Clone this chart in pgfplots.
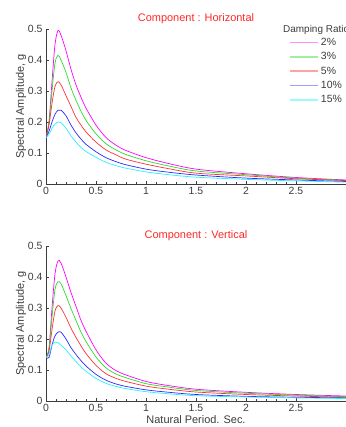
\documentclass[border=0pt]{standalone}
\usepackage{pgfplots}
\usepackage{pgfplotstable}
\pgfplotsset{compat=1.18}
\usepackage{fontspec}
\setmainfont{Liberation Sans}
\definecolor{cmag}{RGB}{255,0,255}
\definecolor{cgrn}{RGB}{40,220,40}
\definecolor{cred}{RGB}{255,50,50}
\definecolor{cblu}{RGB}{40,40,255}
\definecolor{ccya}{RGB}{40,240,255}
\definecolor{ctxt}{RGB}{60,60,60}
\definecolor{ctitle}{RGB}{255,40,40}

\pgfplotstableread{
T    d2    d3    d5    d10   d15
0    0.150 0.150 0.150 0.150 0.150
0.03 0.200 0.200 0.190 0.170 0.160
0.06 0.330 0.300 0.260 0.200 0.180
0.09 0.450 0.390 0.315 0.225 0.193
0.12 0.495 0.415 0.330 0.238 0.200
0.15 0.480 0.400 0.320 0.238 0.198
0.20 0.430 0.360 0.285 0.220 0.180
0.25 0.370 0.310 0.250 0.190 0.155
0.30 0.320 0.270 0.215 0.165 0.135
0.35 0.280 0.235 0.190 0.145 0.118
0.40 0.245 0.205 0.168 0.128 0.105
0.50 0.190 0.162 0.135 0.104 0.086
0.60 0.150 0.130 0.110 0.085 0.070
0.70 0.125 0.110 0.094 0.072 0.059
0.80 0.108 0.095 0.080 0.062 0.051
1.00 0.085 0.075 0.064 0.048 0.039
1.20 0.068 0.060 0.051 0.039 0.031
1.50 0.048 0.042 0.035 0.029 0.022
2.00 0.033 0.030 0.026 0.019 0.015
2.50 0.021 0.019 0.017 0.013 0.010
3.00 0.013 0.012 0.011 0.008 0.006
}\tabH

\pgfplotstableread{
T    d2    d3    d5    d10   d15
0    0.140 0.140 0.140 0.140 0.140
0.03 0.170 0.170 0.160 0.140 0.150
0.06 0.300 0.270 0.230 0.180 0.180
0.09 0.410 0.360 0.290 0.210 0.190
0.12 0.452 0.385 0.308 0.222 0.188
0.15 0.445 0.378 0.300 0.222 0.180
0.20 0.400 0.340 0.270 0.200 0.165
0.25 0.350 0.298 0.235 0.172 0.145
0.30 0.305 0.260 0.205 0.150 0.127
0.35 0.260 0.222 0.178 0.130 0.110
0.40 0.225 0.192 0.153 0.113 0.096
0.50 0.165 0.142 0.115 0.086 0.073
0.60 0.122 0.107 0.088 0.067 0.057
0.70 0.098 0.087 0.073 0.055 0.047
0.80 0.084 0.075 0.063 0.047 0.040
1.00 0.063 0.056 0.048 0.036 0.030
1.20 0.051 0.046 0.039 0.029 0.024
1.50 0.038 0.034 0.029 0.021 0.017
2.00 0.028 0.025 0.021 0.015 0.013
2.50 0.021 0.019 0.016 0.012 0.010
3.00 0.016 0.014 0.012 0.010 0.008
}\tabV

\pgfplotsset{
  myaxis/.style={
    scale only axis, width=300bp, height=155bp,
    anchor=south west,
    xmin=0, xmax=3, ymin=0, ymax=0.5,
    axis x line*=bottom, axis y line*=left,
    axis line style={ctxt, line width=0.6pt},
    tick style={ctxt, line width=0.5pt},
    tick align=inside,
    major tick length=3bp, minor tick length=2bp,
    xtick={0,0.5,1,1.5,2,2.5},
    xticklabels={0,0.5,1,1.5,2,2.5},
    minor x tick num=4,
    ytick={0,0.1,0.2,0.3,0.4,0.5},
    yticklabels={0,0.1,0.2,0.3,0.4,0.5},
    ticklabel style={font=\fontsize{10.5}{12}\selectfont, text=ctxt},
    label style={font=\fontsize{11}{13}\selectfont, text=ctxt},
    ylabel={Spectral Amplitude, g},
    ylabel style={yshift=-5bp},
    xtick pos=left, ytick pos=left,
    every axis plot/.append style={line width=0.7pt, smooth, no markers},
    clip mode=individual,
  }
}

\begin{document}
\begin{tikzpicture}[x=1bp,y=1bp]
\useasboundingbox (0,0) rectangle (346,427);

\begin{axis}[myaxis, at={(46bp,243bp)},
  legend cell align=left,
  legend style={at={(axis cs:2.43,0.478)}, anchor=north west, draw=none, fill=none,
    font=\fontsize{10.5}{12}\selectfont, text=ctxt, row sep=1.6bp, inner sep=0pt},
  legend image code/.code={\draw[#1, line width=1.8bp, opacity=0.45] (0bp,0bp) -- (28bp,0bp);},
]
\addplot[cmag] table[x=T,y=d2]{\tabH}; \addlegendentry{2\%}
\addplot[cgrn] table[x=T,y=d3]{\tabH}; \addlegendentry{3\%}
\addplot[cred] table[x=T,y=d5]{\tabH}; \addlegendentry{5\%}
\addplot[cblu] table[x=T,y=d10]{\tabH}; \addlegendentry{10\%}
\addplot[ccya] table[x=T,y=d15]{\tabH}; \addlegendentry{15\%}
\node[anchor=south, text=ctitle, font=\fontsize{11}{13}\selectfont] at (rel axis cs:0.5,1) [yshift=2bp] {Component : Horizontal};
\node[anchor=west, text=ctxt, font=\fontsize{10}{12}\selectfont, inner sep=0pt] at (axis cs:2.37,0.497) {Damping Ratios};
\end{axis}

\begin{axis}[myaxis, at={(46bp,26bp)},
  xlabel={Natural Period. Sec.},
  xlabel style={yshift=3bp},
]
\addplot[cmag] table[x=T,y=d2]{\tabV};
\addplot[cgrn] table[x=T,y=d3]{\tabV};
\addplot[cred] table[x=T,y=d5]{\tabV};
\addplot[cblu] table[x=T,y=d10]{\tabV};
\addplot[ccya] table[x=T,y=d15]{\tabV};
\node[anchor=south, text=ctitle, font=\fontsize{11}{13}\selectfont] at (rel axis cs:0.5,1) [yshift=2bp] {Component : Vertical};
\end{axis}
\end{tikzpicture}
\end{document}
